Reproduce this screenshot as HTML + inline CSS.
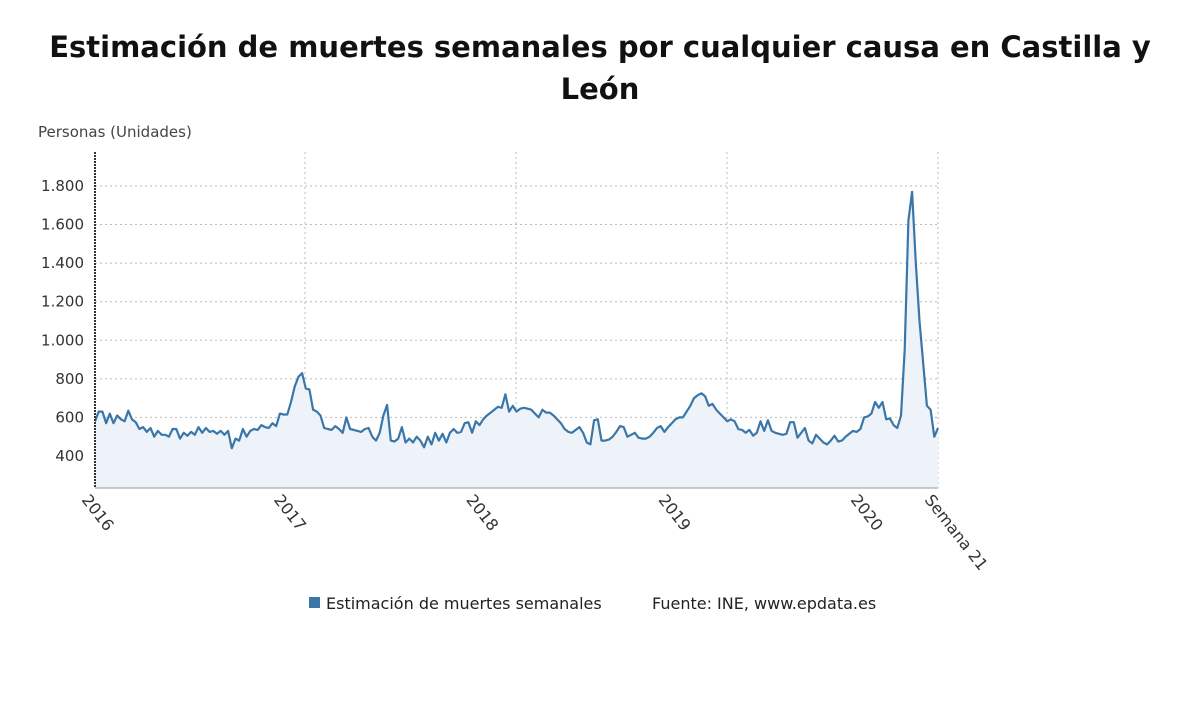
<!DOCTYPE html>
<html><head><meta charset="utf-8"><style>
body{margin:0;background:#fff;font-family:"DejaVu Sans","Liberation Sans",sans-serif;}
</style></head><body>
<svg width="1200" height="705" id="svg" font-family="DejaVu Sans, Liberation Sans, sans-serif">
<text x="600" y="57" text-anchor="middle" font-size="29" font-weight="bold" fill="#111">Estimación de muertes semanales por cualquier causa en Castilla y</text>
<text x="600" y="99" text-anchor="middle" font-size="29" font-weight="bold" fill="#111">León</text>
<text x="38" y="137" font-size="15" fill="#444">Personas (Unidades)</text>
<g id="grid"></g><g id="marks"></g><g id="axes"></g>
<rect x="309" y="597" width="11" height="11" fill="#3a77a8"/>
<text x="326" y="609" font-size="16" fill="#222">Estimación de muertes semanales</text>
<text x="652" y="609" font-size="16" fill="#222">Fuente: INE, www.epdata.es</text>
</svg>
<script>
const yTicks=[400,600,800,1000,1200,1400,1600,1800];
const yTickLabels=["400","600","800","1.000","1.200","1.400","1.600","1.800"];
const xLabels=["2016","2017","2018","2019","2020","Semana 21"];
const xLabelIdx=[0,52,104,156,208,228];
const y2016=[580,630,630,570,620,570,610,590,580,635,590,575,540,550,525,545,500,530,510,510,500,540,540,490,520,505,525,510,550,520,545,525,530,515,530,510,530,440,490,480,540,500,530,540,535,560,550,545,570,555,620,615];
const y2017=[615,680,760,810,830,750,745,640,630,610,545,540,535,555,540,520,600,540,535,530,525,540,545,500,480,520,610,665,480,475,490,550,470,490,470,500,480,445,500,460,520,480,515,470,520,540,520,525,570,575,520,580];
const y2018=[560,590,610,625,640,655,650,720,630,660,630,645,650,645,640,620,600,640,625,625,610,590,570,540,525,520,535,550,520,470,460,585,590,480,480,485,500,525,555,550,500,510,520,495,490,490,500,520,545,555,525,550];
const y2019=[570,590,600,600,630,660,700,715,725,710,660,670,640,620,600,580,590,580,540,535,520,535,505,520,580,530,585,530,520,515,510,515,575,575,495,520,545,480,465,510,490,470,460,480,505,475,480,500,515,530,525,540];
const y2020=[600,605,620,680,650,680,590,595,560,545,610,950,1620,1770,1400,1100,880,660,640,500,545];
const values=[].concat(y2016,y2017,y2018,y2019,y2020);
const NS="http://www.w3.org/2000/svg";
const X0=95,X1=938,Y0=488,yMin=234,yMax=1888;
const xs=i=>X0+i*(X1-X0)/(values.length-1);
const ys=v=>Y0-(v-yMin)*(Y0-169)/(yMax-yMin);
function mk(t,a,p){const e=document.createElementNS(NS,t);for(const k in a)e.setAttribute(k,a[k]);p.appendChild(e);return e;}
const grid=document.getElementById('grid'),marks=document.getElementById('marks'),axes=document.getElementById('axes');
yTicks.forEach((v,k)=>{
 const l=mk('line',{x1:X0,x2:X1,y1:ys(v),y2:ys(v),stroke:'#bbb','stroke-dasharray':'2,3'},grid);
 
 
 const t=mk('text',{x:84,y:ys(v)+5,'text-anchor':'end','font-size':15,fill:'#333'},axes);
 t.textContent=yTickLabels[k];
 
 
});
[305,516,727,938].forEach(x=>{
 const l=mk('line',{x1:x,x2:x,y1:152,y2:Y0,stroke:'#bbb','stroke-dasharray':'2,3'},grid);
 
 
});
let d='';values.forEach((v,i)=>{d+=(i?'L':'M')+xs(i).toFixed(1)+','+ys(v).toFixed(1);});
const area=mk('path',{d:d+'L'+xs(values.length-1)+','+Y0+'L'+X0+','+Y0+'Z',fill:'#eef3f9'},marks);


const line=mk('path',{d:d,fill:'none',stroke:'#3a77a8','stroke-width':2.2,'stroke-linejoin':'round'},marks);


const ax=mk('line',{x1:X0,x2:X0,y1:152,y2:Y0,stroke:'#333','stroke-width':2,'stroke-dasharray':'2,1'},axes);


const bx=mk('line',{x1:X0,x2:X1,y1:Y0,y2:Y0,stroke:'#999'},axes);


xLabels.forEach((s,k)=>{
 const x=xs(xLabelIdx[k]);
 const t=mk('text',{x:x-14,y:Y0+12,'font-size':16,fill:'#333',transform:`rotate(52 ${x-14} ${Y0+12})`},axes);
 t.textContent=s;
 
 
});
</script>
</body></html>
